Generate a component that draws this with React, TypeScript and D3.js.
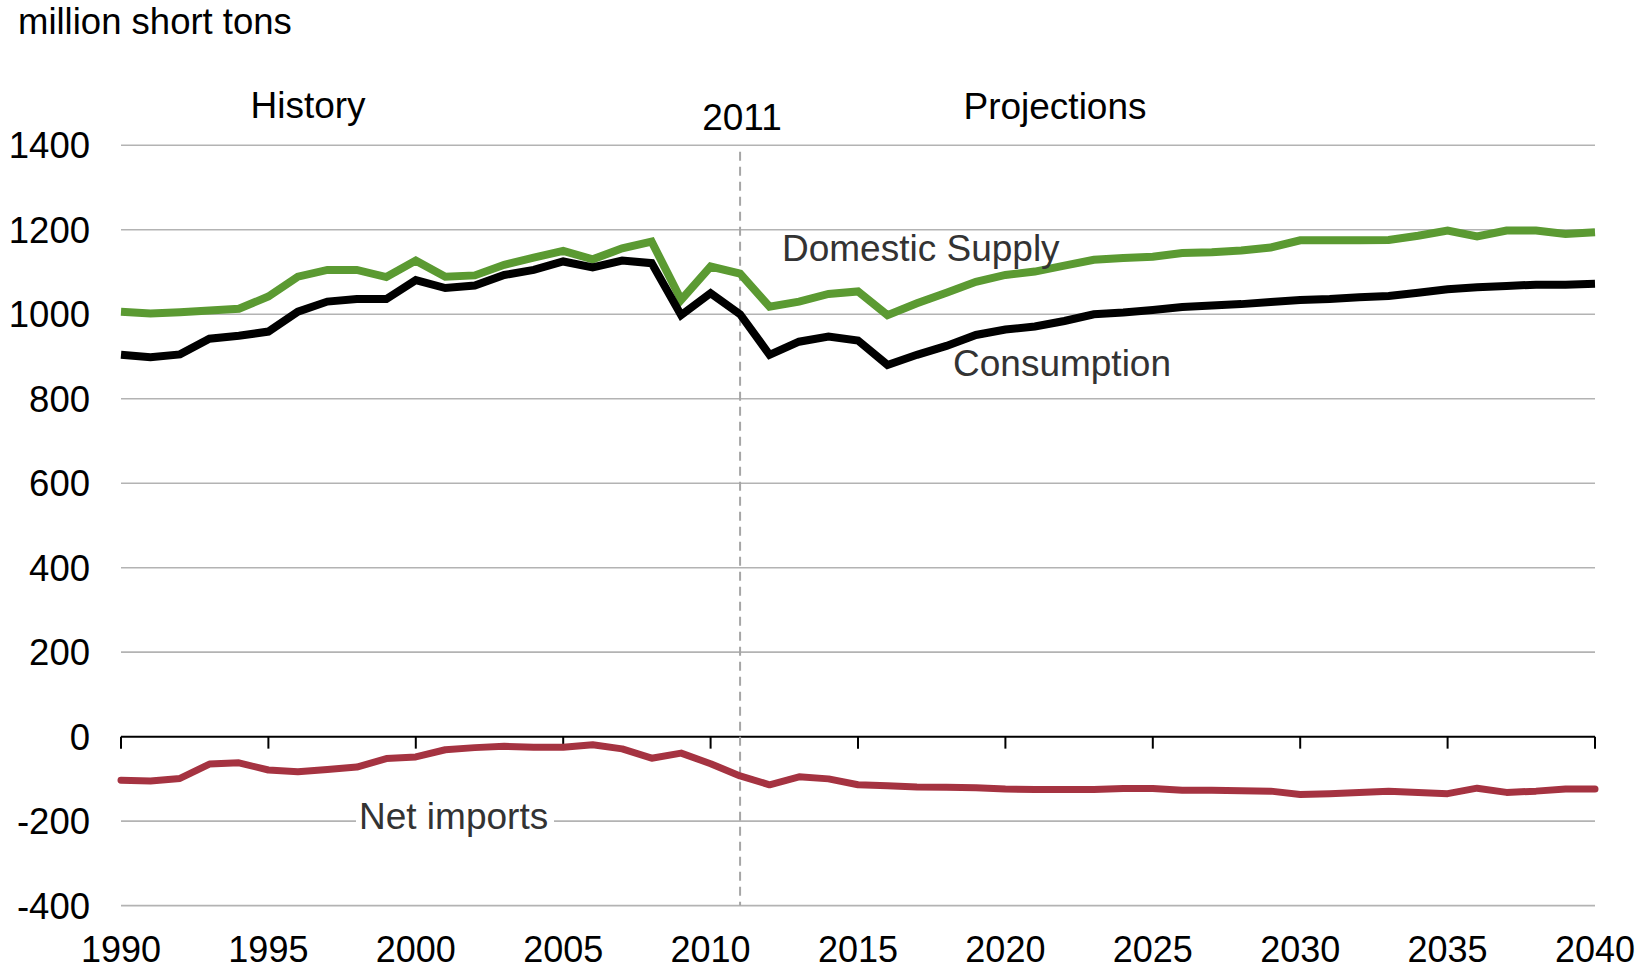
import React from "react";
import * as d3 from "d3";

const years: number[] = d3.range(1990, 2041);

const domesticSupply: number[] = [
  1006, 1002, 1005, 1009, 1013, 1042, 1089, 1105, 1105, 1088,
  1127, 1089, 1092, 1117, 1134, 1150, 1130, 1156, 1172, 1034,
  1113, 1096, 1018, 1030, 1048, 1054, 998, 1026, 1051, 1077,
  1093, 1101, 1115, 1129, 1133, 1136, 1145, 1147, 1151, 1158,
  1175, 1175, 1175, 1176, 1186, 1198, 1184, 1198, 1198, 1190,
  1194,
];

const consumption: number[] = [
  904, 898, 905, 942, 949, 959, 1006, 1030, 1036, 1036,
  1081, 1062, 1068, 1093, 1105, 1125, 1111, 1127, 1121, 998,
  1050, 1000, 904, 935, 947, 938, 880, 904, 925, 951,
  964, 971, 984, 1000, 1004, 1010, 1017, 1021, 1024, 1029,
  1034, 1036, 1040, 1043, 1051, 1059, 1064, 1067, 1070, 1070,
  1072,
];

const netImports: number[] = [
  -103, -105, -99, -65, -62, -79, -83, -78, -72, -52,
  -48, -31, -26, -23, -25, -25, -19, -29, -51, -39,
  -64, -93, -114, -95, -100, -114, -116, -119, -120, -121,
  -124, -125, -125, -125, -123, -123, -127, -127, -128, -129,
  -137, -135, -132, -129, -132, -135, -122, -132, -129, -124,
  -124,
];

const yTicks: number[] = [-400, -200, 0, 200, 400, 600, 800, 1000, 1200, 1400];
const xTicks: number[] = [1990, 1995, 2000, 2005, 2010, 2015, 2020, 2025, 2030, 2035, 2040];

const W = 1651;
const H = 970;
const FONT = "'Liberation Sans', Arial, sans-serif";

export default function App() {
  const x = d3.scaleLinear().domain([1990, 2040]).range([121, 1595]);
  const y = d3.scaleLinear().domain([-400, 1400]).range([905.6, 145.3]);

  const line = d3
    .line<number>()
    .x((_, i) => x(years[i]))
    .y((d) => y(d));

  return (
    <svg
      width={W}
      height={H}
      style={{ position: "absolute", left: 0, top: 0, background: "#fff" }}
      fontFamily={FONT}
    >
      <rect x={0} y={0} width={W} height={H} fill="#fff" />
      {/* gridlines */}
      {yTicks
        .filter((t) => t !== 0)
        .map((t) => (
          <line
            key={t}
            x1={x(1990)}
            x2={x(2040)}
            y1={y(t)}
            y2={y(t)}
            stroke="#b3b3b3"
            strokeWidth={1.6}
          />
        ))}
      {/* y labels */}
      {yTicks.map((t) => (
        <text
          key={t}
          x={90}
          y={y(t)}
          dy="0.36em"
          textAnchor="end"
          fontSize={36.5}
          fill="#000"
        >
          {t}
        </text>
      ))}
      {/* zero axis */}
      <line x1={x(1990)} x2={x(2040)} y1={y(0)} y2={y(0)} stroke="#000" strokeWidth={2} />
      {xTicks.map((t) => (
        <line key={t} x1={x(t)} x2={x(t)} y1={y(0)} y2={y(0) + 12} stroke="#000" strokeWidth={2} />
      ))}
      {xTicks.map((t) => (
        <text key={t} x={x(t)} y={962} textAnchor="middle" fontSize={36} fill="#000">
          {t}
        </text>
      ))}
      {/* 2011 dashed line */}
      <line
        x1={x(2011)}
        x2={x(2011)}
        y1={y(1385)}
        y2={y(-400)}
        stroke="#a6a6a6"
        strokeWidth={2}
        strokeDasharray="9,6"
      />
      {/* series */}
      <path d={line(domesticSupply) || ""} fill="none" stroke="#5b9a32" strokeWidth={8} strokeLinejoin="miter" />
      <path d={line(consumption) || ""} fill="none" stroke="#000" strokeWidth={8} strokeLinejoin="miter" />
      <path d={line(netImports) || ""} fill="none" stroke="#a53341" strokeWidth={7} strokeLinejoin="round" strokeLinecap="round" />
      {/* annotations */}
      <text x={18} y={34} fontSize={36.5} fill="#000">million short tons</text>
      <text x={308} y={118} fontSize={37} textAnchor="middle" fill="#000">History</text>
      <text x={742} y={130} fontSize={37} textAnchor="middle" fill="#000">2011</text>
      <text x={1055} y={119} fontSize={37} textAnchor="middle" fill="#000">Projections</text>
      <text x={782} y={261} fontSize={37} fill="#333">Domestic Supply</text>
      <text x={953} y={376} fontSize={37} fill="#333">Consumption</text>
      <rect x={356} y={800} width={198} height={40} fill="#fff" />
      <text x={359} y={829} fontSize={37} fill="#333">Net imports</text>
    </svg>
  );
}
